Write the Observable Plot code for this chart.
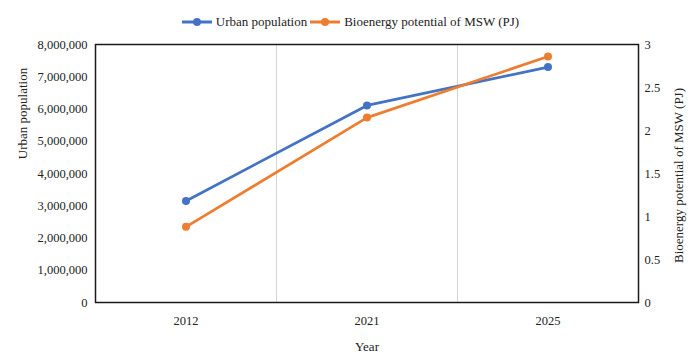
<!DOCTYPE html>
<html>
<head>
<meta charset="utf-8">
<script src="https://cdn.jsdelivr.net/npm/d3@7"></script>
<script src="https://cdn.jsdelivr.net/npm/@observablehq/plot@0.6"></script>
<style>
  body { margin: 0; background: #fff; font-family: "Liberation Serif", "Times New Roman", serif; }
  #legend { height: 24px; padding-top: 10px; display: flex; justify-content: center; align-items: center; font-size: 13px; color: #222; }
  #legend .item { display: flex; align-items: center; margin: 0 1px; }
  #legend svg { margin-right: 3px; }
</style>
</head>
<body>
<div id="legend"></div>
<div id="chart"></div>
<script>
const years = ["2012", "2021", "2025"];
const urbanPopulation = [3150000, 6110000, 7300000];
const bioenergy = [0.88, 2.15, 2.86];
const leftTicks = [0, 1000000, 2000000, 3000000, 4000000, 5000000, 6000000, 7000000, 8000000];
const rightTicks = [0, 0.5, 1, 1.5, 2, 2.5, 3];
const seriesNames = ["Urban population", "Bioenergy potential of MSW (PJ)"];
const colors = ["#4472C4", "#ED7D31"];

const leftMax = 8000000, rightMax = 3;
const k = leftMax / rightMax;

const rows = years.map((y, i) => ({year: y, pop: urbanPopulation[i], bio: bioenergy[i] * k}));

// legend
const legend = document.getElementById("legend");
seriesNames.forEach((name, i) => {
  const item = document.createElement("div");
  item.className = "item";
  item.innerHTML = `<svg width="32" height="12"><line x1="1" y1="6" x2="31" y2="6" stroke="${colors[i]}" stroke-width="3"/><circle cx="16" cy="6" r="4" fill="${colors[i]}"/></svg><span>${name}</span>`;
  legend.appendChild(item);
});

const W = 700, ML = 95, MR = 62;
const bandwidth = (W - ML - MR) / years.length;

const chart = Plot.plot({
  width: W,
  height: 329,
  marginTop: 10,
  marginBottom: 61,
  marginLeft: ML,
  marginRight: MR,
  style: {fontFamily: "Liberation Serif, Times New Roman, serif", fontSize: "12.5px", color: "#222", background: "#fff"},
  x: {type: "band", domain: years, paddingInner: 0, paddingOuter: 0, label: null},
  y: {domain: [0, leftMax], label: null},
  marks: [
    Plot.ruleX(years.slice(1), {stroke: "#d4d4d4", strokeWidth: 1, dx: -bandwidth / 2}),
    Plot.axisX({tickSize: 0, tickPadding: 14, label: null}),
    Plot.axisY(leftTicks, {anchor: "left", tickSize: 0, tickPadding: 8, tickFormat: d3.format(","), label: null}),
    Plot.axisY(rightTicks.map(v => v * k), {anchor: "right", tickSize: 0, tickPadding: 6, tickFormat: v => String(+(v / k).toFixed(1)), label: null}),
    Plot.frame({stroke: "#1a1a1a", strokeWidth: 1.5}),
    Plot.line(rows, {x: "year", y: "pop", stroke: colors[0], strokeWidth: 2.75}),
    Plot.dot(rows, {x: "year", y: "pop", fill: colors[0], r: 4}),
    Plot.line(rows, {x: "year", y: "bio", stroke: colors[1], strokeWidth: 2.75}),
    Plot.dot(rows, {x: "year", y: "bio", fill: colors[1], r: 4}),
    Plot.text(["Urban population"], {frameAnchor: "left", textAnchor: "middle", lineAnchor: "middle", dx: -73, dy: -60, rotate: -90, fontSize: 13, fill: "#222"}),
    Plot.text(["Bioenergy potential of MSW (PJ)"], {frameAnchor: "right", textAnchor: "middle", lineAnchor: "middle", dx: 40, dy: 2, rotate: -90, fontSize: 13, fill: "#222"}),
    Plot.text(["Year"], {frameAnchor: "bottom", textAnchor: "middle", lineAnchor: "middle", dy: 44, fontSize: 13, fill: "#222"})
  ]
});
document.getElementById("chart").appendChild(chart);
</script>
</body>
</html>
